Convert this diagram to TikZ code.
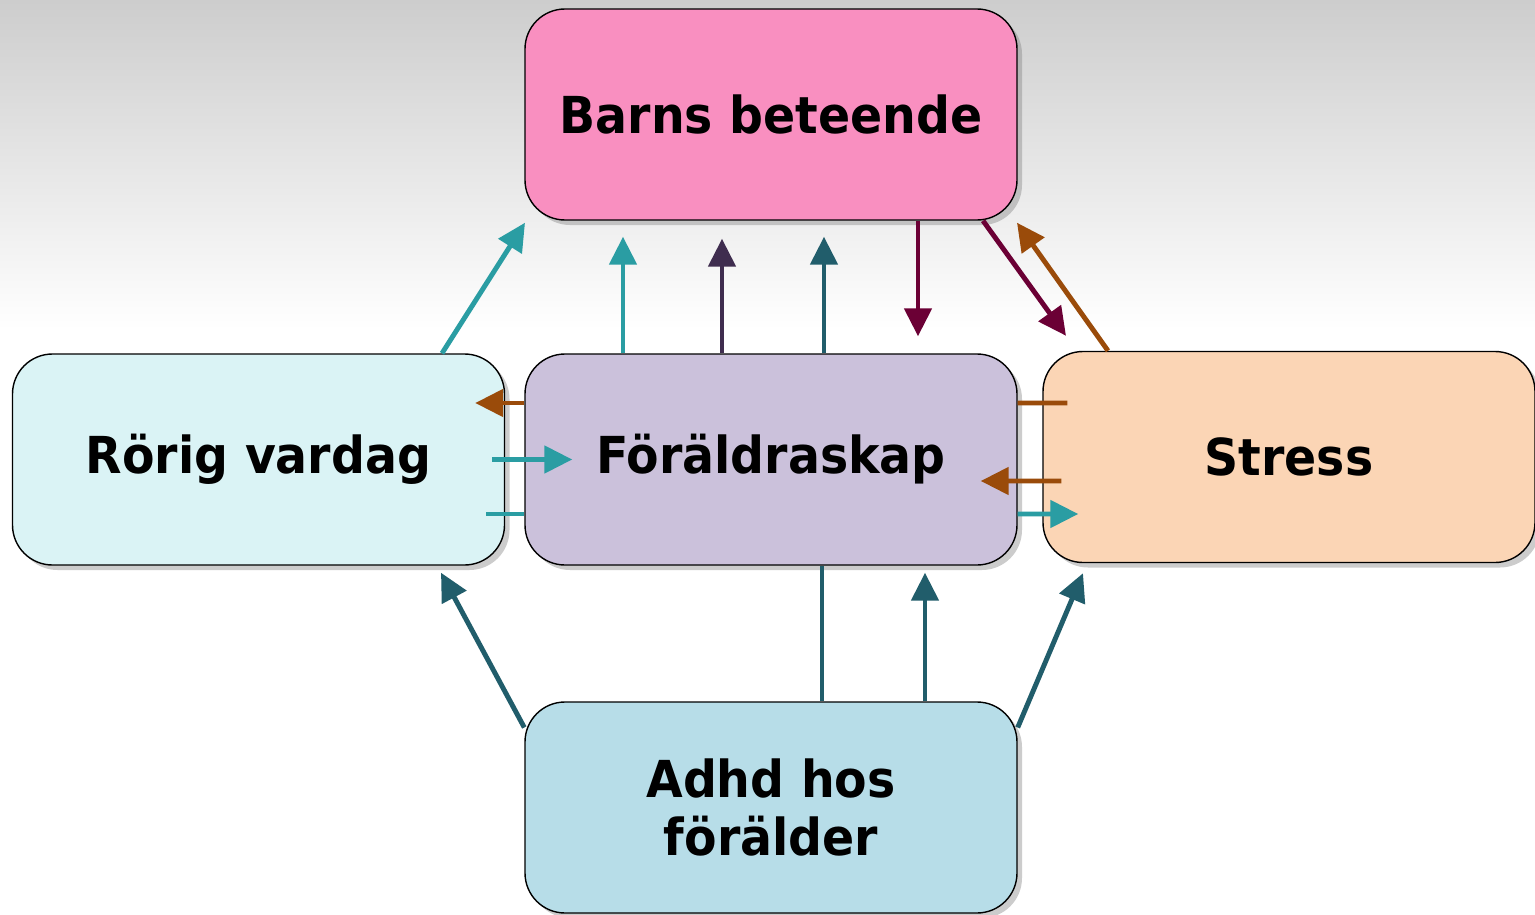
\documentclass[tikz,border=0pt]{standalone}
\usepackage{fontspec}
\setmainfont{DejaVu Sans}[FakeStretch=0.93]
\usetikzlibrary{arrows.meta,shadows}
\definecolor{pinkbox}{HTML}{F98FC0}
\definecolor{cyanbox}{HTML}{DAF3F5}
\definecolor{lilacbox}{HTML}{CBC1DB}
\definecolor{peachbox}{HTML}{FBD5B5}
\definecolor{bluebox}{HTML}{B7DDE8}
\definecolor{tealarr}{HTML}{2A9DA3}
\definecolor{purplearr}{HTML}{3F2D4F}
\definecolor{darktealarr}{HTML}{215D6B}
\definecolor{maroonarr}{HTML}{6B0035}
\definecolor{brownarr}{HTML}{9A4B0A}
\begin{document}
\begin{tikzpicture}[
    box/.style={draw=black, line width=0.4pt, rounded corners=0.4cm, minimum width=4.92cm, minimum height=2.11cm,
      align=center, font=\fontsize{14.5}{16.5}\selectfont\bfseries,
      drop shadow={shadow xshift=0.05cm, shadow yshift=-0.05cm, opacity=0.4}},
    arr/.style={line width=1.4pt, -{Triangle[length=0.28cm,width=0.27cm]}},
    bar/.style={line width=1.4pt}
  ]
  \useasboundingbox (0,0) rectangle (15.35,-9.15);
  % background
  \shade[top color={rgb,255:red,205;green,205;blue,205}, bottom color=white] (0,0) rectangle (15.35,-3.3);
  \fill[white] (0,-3.3) rectangle (15.35,-9.15);
  % boxes
  \node[box, fill=pinkbox] (barn) at (7.71,-1.145) {Barns beteende};
  \node[box, fill=cyanbox] (rorig) at (2.585,-4.595) {Rörig vardag};
  \node[box, fill=lilacbox] (foral) at (7.71,-4.595) {Föräldraskap};
  \node[box, fill=peachbox] (stress) at (12.89,-4.57) {Stress};
  \node[box, fill=bluebox] (adhd) at (7.71,-8.075) {Adhd hos\\förälder};
  % up to Barns beteende
  \draw[arr, tealarr] ([xshift=1.835cm]rorig.north) -- ([xshift=-2.46cm,yshift=-0.02cm]barn.south);
  \draw[arr, tealarr] ([xshift=-1.48cm]foral.north) -- ([xshift=-1.48cm,yshift=-0.16cm]barn.south);
  \draw[arr, purplearr] ([xshift=-0.49cm]foral.north) -- ([xshift=-0.49cm,yshift=-0.18cm]barn.south);
  \draw[arr, darktealarr] ([xshift=0.53cm]foral.north) -- ([xshift=0.53cm,yshift=-0.16cm]barn.south);
  % down from Barns beteende
  \draw[arr, maroonarr] ([xshift=1.47cm]barn.south) -- ([xshift=1.47cm,yshift=0.17cm]foral.north);
  \draw[arr, maroonarr] ([xshift=2.12cm]barn.south) -- ([xshift=-2.23cm,yshift=0.15cm]stress.north);
  \draw[arr, brownarr] ([xshift=-1.81cm]stress.north) -- ([xshift=2.46cm,yshift=-0.02cm]barn.south);
  % between the middle row
  \draw[arr, brownarr] ([yshift=0.565cm]foral.west) -- ([xshift=-0.30cm,yshift=0.565cm]rorig.east);
  \draw[arr, tealarr] ([xshift=-0.13cm]rorig.east) -- ([xshift=0.48cm]foral.west);
  \draw[bar, tealarr] ([xshift=-0.19cm,yshift=-0.545cm]rorig.east) -- ([yshift=-0.545cm]foral.west);
  \draw[bar, brownarr] ([yshift=0.565cm]foral.east) -- ([xshift=0.25cm,yshift=0.54cm]stress.west);
  \draw[arr, brownarr] ([xshift=0.19cm,yshift=-0.24cm]stress.west) -- ([xshift=-0.37cm,yshift=-0.215cm]foral.east);
  \draw[arr, tealarr] ([yshift=-0.545cm]foral.east) -- ([xshift=0.36cm,yshift=-0.57cm]stress.west);
  % from Adhd hos foralder
  \draw[arr, darktealarr] ([yshift=0.8cm]adhd.west) -- ([xshift=1.825cm,yshift=-0.07cm]rorig.south);
  \draw[bar, darktealarr] ([xshift=0.51cm]adhd.north) -- ([xshift=0.51cm]foral.south);
  \draw[arr, darktealarr] ([xshift=1.54cm]adhd.north) -- ([xshift=1.54cm,yshift=-0.07cm]foral.south);
  \draw[arr, darktealarr] ([yshift=0.8cm]adhd.east) -- ([xshift=-2.06cm,yshift=-0.10cm]stress.south);
\end{tikzpicture}
\end{document}
